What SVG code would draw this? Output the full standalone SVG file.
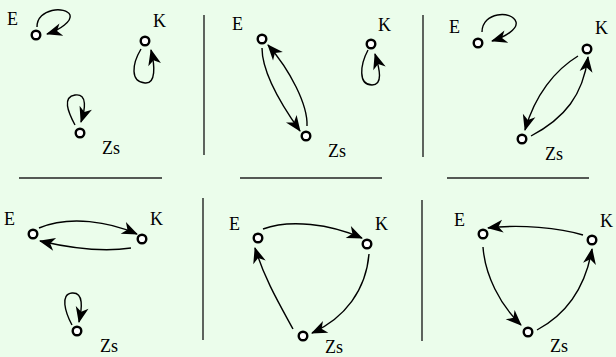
<svg xmlns="http://www.w3.org/2000/svg" width="616" height="357" viewBox="0 0 616 357">
<defs>
<style>
.bg{fill:#ebfdeb}
.sep{stroke:#222;stroke-width:1.4;fill:none}
.e{stroke:#000;stroke-width:1.4;fill:none}
.n{fill:#fff;stroke:#000;stroke-width:2.4}
text{font-family:"Liberation Serif",serif;font-size:18px;fill:#000}
</style>
<marker id="ah" markerUnits="userSpaceOnUse" markerWidth="20" markerHeight="16" viewBox="-18 -8 20 16" refX="0" refY="0" orient="auto">
<path d="M1,0 L-15,-6.5 L-10.5,0 L-15,6.5 Z" fill="#000"/>
</marker>
</defs>
<rect class="bg" x="0" y="0" width="616" height="357"/>
<g id="separators">
<line class="sep" x1="204" y1="15" x2="204" y2="155"/>
<line class="sep" x1="423" y1="15" x2="423" y2="157"/>
<line class="sep" x1="19" y1="178" x2="162" y2="178"/>
<line class="sep" x1="240" y1="178" x2="382" y2="178"/>
<line class="sep" x1="447" y1="178" x2="589" y2="178"/>
<line class="sep" x1="203" y1="198" x2="203" y2="340"/>
<line class="sep" x1="422" y1="200" x2="422" y2="341"/>
</g>
<g id="connectors">
<path class="e" marker-end="url(#ah)" d="M37,27 C37,8 66,6 70,15 C72,21 60,30 47,34"/>
<path class="e" marker-end="url(#ah)" d="M141,49 C132,64 130,82 145,83 C156,84 155,66 151,50"/>
<path class="e" marker-end="url(#ah)" d="M75,125 C68,112 62,97 75,95 C88,93 85,110 81,122"/>
<path class="e" marker-end="url(#ah)" d="M262,48 C262,75 285,110 300,131"/>
<path class="e" marker-end="url(#ah)" d="M307,126 C308,105 290,70 268,45"/>
<path class="e" marker-end="url(#ah)" d="M368,50 C360,65 358,85 372,85 C383,85 380,70 375,54"/>
<path class="e" marker-end="url(#ah)" d="M482,32 C482,12 512,10 516,22 C518,29 505,37 492,41"/>
<path class="e" marker-end="url(#ah)" d="M578,56 C555,70 535,95 525,130"/>
<path class="e" marker-end="url(#ah)" d="M531,136 C565,118 583,95 588,57"/>
<path class="e" marker-end="url(#ah)" d="M39,228 C70,215 110,222 137,234"/>
<path class="e" marker-end="url(#ah)" d="M131,248 C105,252 70,248 40,241"/>
<path class="e" marker-end="url(#ah)" d="M72,325 C65,312 60,294 72,293 C84,292 82,308 79,322"/>
<path class="e" marker-end="url(#ah)" d="M263,229 C290,219 330,224 362,238"/>
<path class="e" marker-end="url(#ah)" d="M369,254 C366,290 345,318 312,333"/>
<path class="e" marker-end="url(#ah)" d="M293,329 C280,305 265,280 255,248"/>
<path class="e" marker-end="url(#ah)" d="M583,235 C560,228 520,224 488,228"/>
<path class="e" marker-end="url(#ah)" d="M483,247 C485,275 500,305 521,325"/>
<path class="e" marker-end="url(#ah)" d="M537,330 C565,315 585,290 592,249"/>
</g>
<g id="p1-E"><circle class="n" cx="36" cy="35" r="4.3"/><text x="7" y="25">E</text></g>
<g id="p1-K"><circle class="n" cx="145" cy="41" r="4.3"/><text x="153" y="27">K</text></g>
<g id="p1-Zs"><circle class="n" cx="80" cy="133" r="4.3"/><text x="102" y="154">Zs</text></g>
<g id="p2-E"><circle class="n" cx="262" cy="39" r="4.3"/><text x="232" y="30">E</text></g>
<g id="p2-K"><circle class="n" cx="371" cy="44" r="4.3"/><text x="378" y="31">K</text></g>
<g id="p2-Zs"><circle class="n" cx="306" cy="136" r="4.3"/><text x="328" y="157">Zs</text></g>
<g id="p3-E"><circle class="n" cx="478" cy="43" r="4.3"/><text x="449" y="33">E</text></g>
<g id="p3-K"><circle class="n" cx="587" cy="49" r="4.3"/><text x="595" y="34">K</text></g>
<g id="p3-Zs"><circle class="n" cx="522" cy="139" r="4.3"/><text x="545" y="160">Zs</text></g>
<g id="p4-E"><circle class="n" cx="33" cy="234" r="4.3"/><text x="4" y="225">E</text></g>
<g id="p4-K"><circle class="n" cx="142" cy="239" r="4.3"/><text x="150" y="225">K</text></g>
<g id="p4-Zs"><circle class="n" cx="77" cy="331" r="4.3"/><text x="100" y="352">Zs</text></g>
<g id="p5-E"><circle class="n" cx="258" cy="238" r="4.3"/><text x="229" y="230">E</text></g>
<g id="p5-K"><circle class="n" cx="367" cy="244" r="4.3"/><text x="375" y="230">K</text></g>
<g id="p5-Zs"><circle class="n" cx="303" cy="336" r="4.3"/><text x="325" y="353">Zs</text></g>
<g id="p6-E"><circle class="n" cx="483" cy="234" r="4.3"/><text x="454" y="226">E</text></g>
<g id="p6-K"><circle class="n" cx="592" cy="240" r="4.3"/><text x="600" y="227">K</text></g>
<g id="p6-Zs"><circle class="n" cx="528" cy="332" r="4.3"/><text x="550" y="352">Zs</text></g>
</svg>
